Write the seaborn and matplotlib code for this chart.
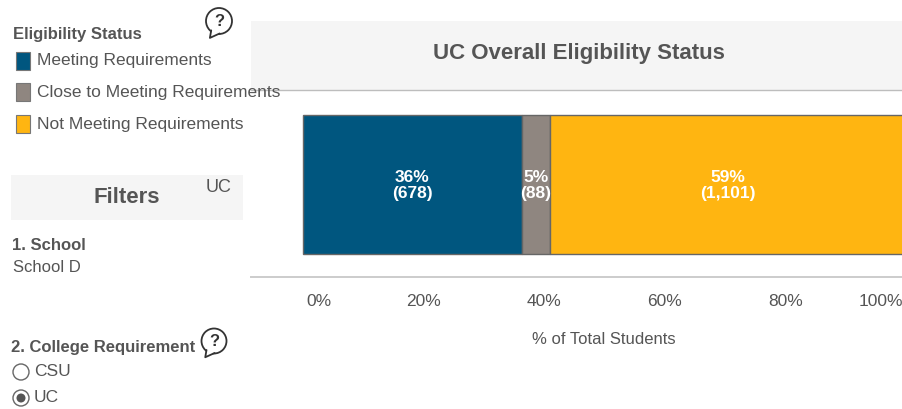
import matplotlib
matplotlib.use("Agg")
import matplotlib.pyplot as plt
from matplotlib import font_manager as fm
from matplotlib.patches import Rectangle, Circle, Polygon
import seaborn as sns
import pandas as pd

sns.set_theme(style="white")
names = {f.name for f in fm.fontManager.ttflist}
print(sorted(n for n in names if "Liberation" in n or "Narrow" in n or "Condensed" in n))
FONT = "Liberation Sans Narrow" if "Liberation Sans Narrow" in names else "Liberation Sans"
plt.rcParams["font.family"] = [FONT, "DejaVu Sans"]

# ---- data ----
category = ["UC"]
statuses = ["Meeting Requirements", "Close to Meeting Requirements", "Not Meeting Requirements"]
percent_values = [36.3, 4.7, 59.0]
percent_labels = ["36%", "5%", "59%"]
count_labels = ["678", "88", "1,101"]
colors = ["#00567F", "#8F8680", "#FFB511"]
major_ticks = [0, 20, 40, 60, 80, 100]
minor_ticks = [10, 30, 50, 70, 90]
tick_labels = ["0%", "20%", "40%", "60%", "80%", "100%"]

W, H = 903, 410
TXT = "#555555"
fig = plt.figure(figsize=(W / 100, H / 100), dpi=100, facecolor="white")

# page furniture layer in pixel coordinates
bg = fig.add_axes([0, 0, 1, 1], zorder=0)
bg.set_xlim(0, W); bg.set_ylim(H, 0); bg.axis("off")

bg.add_patch(Rectangle((251, 22), 652, 69, fc="#F5F5F5", ec="none"))
bg.plot([251, 903], [91, 91], color="#BDBDBD", lw=1)
bg.text(579, 53, "UC Overall Eligibility Status", ha="center", va="center",
        fontsize=16, fontweight="bold", color=TXT)

bg.add_patch(Rectangle((11, 176), 232, 45, fc="#F5F5F5", ec="none"))
bg.text(127, 198, "Filters", ha="center", va="center", fontsize=16, fontweight="bold", color=TXT)

bg.text(13, 35, "Eligibility Status", ha="left", va="center", fontsize=12, fontweight="bold", color=TXT)
for s, c, y in zip(statuses, colors, [62, 93, 125]):
    bg.add_patch(Rectangle((16, y - 9), 14, 18, fc=c, ec="#777777", lw=0.8))
    bg.text(37, y - 1, s, ha="left", va="center", fontsize=12.5, color=TXT)

bg.text(12, 246, "1. School", ha="left", va="center", fontsize=12, fontweight="bold", color=TXT)
bg.text(13, 268, "School D", ha="left", va="center", fontsize=12, color=TXT)
bg.text(11, 348, "2. College Requirement", ha="left", va="center", fontsize=12, fontweight="bold", color=TXT)
bg.text(34, 372, "CSU", ha="left", va="center", fontsize=12.5, color=TXT)
bg.text(34, 398, "UC", ha="left", va="center", fontsize=12.5, color=TXT)
bg.add_patch(Circle((21, 373), 8, fc="white", ec="#666666", lw=1))
bg.add_patch(Circle((21, 399), 8, fc="white", ec="#666666", lw=1))
bg.add_patch(Circle((21, 399), 4.5, fc="#555555", ec="none"))


def bubble(cx, cy, r):
    bg.add_patch(Circle((cx, cy), r, fc="white", ec="#333333", lw=1.3, zorder=3))
    bg.add_patch(Polygon([(cx - r * 0.55, cy + r * 0.7), (cx - r * 0.7, cy + r * 1.3),
                          (cx + r * 0.05, cy + r * 0.95)], closed=True, fc="white",
                         ec="none", zorder=4))
    bg.plot([cx - r * 0.6, cx - r * 0.7, cx + r * 0.05],
            [cy + r * 0.72, cy + r * 1.3, cy + r * 0.96], color="#333333", lw=1.3, zorder=5)
    bg.text(cx, cy, "?", ha="center", va="center", fontsize=12, fontweight="bold",
            color="#333333", zorder=6)


bubble(219, 22, 13)
bubble(214, 342, 12.5)

# chart
ax = fig.add_axes([251 / W, 1 - 278 / H, (903 - 251) / W, (278 - 91) / H], zorder=1)
ax.patch.set_alpha(0)
left = 0.0
for s, v, c, pl, cl in zip(statuses, percent_values, colors, percent_labels, count_labels):
    df = pd.DataFrame({"pct": [v], "cat": category})
    sns.barplot(data=df, x="pct", y="cat", left=left, color=c, saturation=1, width=0.743,
                edgecolor="#666666", linewidth=1, ax=ax, clip_on=True)
    ax.text(left + v / 2, 0, f"{pl}\n({cl})", ha="center", va="center", color="white",
            fontsize=12.5, fontweight="bold", linespacing=1.15)
    left += v

ax.set_xlim(-8.62, 99.5)
ax.set_ylim(0.495, -0.505)
sns.despine(ax=ax, left=True, right=True, top=True)
ax.spines["bottom"].set_color("#CCCCCC")
ax.spines["bottom"].set_linewidth(1.4)
ax.set_xticks([t for t in major_ticks if t < 100])
ax.set_xticks(minor_ticks, minor=True)
ax.tick_params(axis="x", which="major", length=9, width=1, color="#CCCCCC", labelbottom=False)
ax.tick_params(axis="x", which="minor", length=4, width=1, color="#CCCCCC")
ax.tick_params(axis="y", length=0, pad=14, labelsize=13, labelcolor=TXT)
tr = ax.get_xaxis_transform()
for t, lab in zip(major_ticks, tick_labels):
    x, ha = t, "center"
    if t == 0:
        x, ha = 0.5, "left"
    if t == 100:
        x, ha = 99.5, "right"
    ax.text(x, -0.128, lab, transform=tr, ha=ha, va="center", fontsize=12.5, color=TXT)
ax.set_ylabel("")
ax.set_xlabel("")
bg.text(604, 340, "% of Total Students", ha="center", va="center", fontsize=12, color=TXT)

fig.savefig("out.png", dpi=100)
